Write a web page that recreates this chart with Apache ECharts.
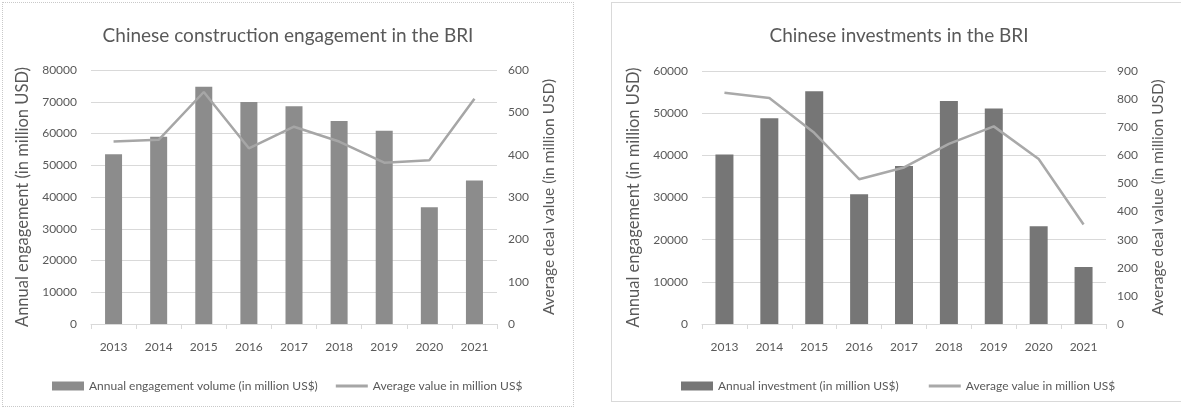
<!DOCTYPE html>
<html>
<head>
<meta charset="utf-8">
<script src="https://cdn.jsdelivr.net/npm/echarts@6/dist/echarts.min.js"></script>
<style>
  html, body { margin: 0; padding: 0; background: #ffffff; }
  body { width: 1181px; height: 410px; position: relative; overflow: hidden; }
  .box { position: absolute; box-sizing: border-box; background: #fff; }
  #construction { left: 2px; top: 2px; width: 572px; height: 405px; border: 1px dotted #c9c9c9; }
  #investment { left: 611px; top: 2px; width: 576px; height: 400px; border: 1px solid #d9d9d9; }
</style>
</head>
<body>
<div id="construction" class="box"></div>
<div id="investment" class="box"></div>
<script>
// categories and values
var years = ['2013', '2014', '2015', '2016', '2017', '2018', '2019', '2020', '2021'];

var constructionVolume = [53500, 59000, 74700, 69900, 68600, 63900, 60900, 36800, 45200];
var constructionAvg = [431, 435, 548, 415, 466, 431, 381, 387, 532];

var investmentVolume = [40200, 48800, 55200, 30800, 37500, 52900, 51100, 23200, 13500];
var investmentAvg = [823, 804, 680, 515, 557, 641, 703, 587, 354];

var textColor = '#595959';
var gridColor = '#d9d9d9';
var font = 'Lato';
// plain line for the legend entry of the line series
var lineIcon = 'path://M0,0 L32,0 L32,3 L0,3 Z';

function buildOption(cfg) {
  return {
    animation: false,
    textStyle: { fontFamily: font },

    // Title
    title: {
      text: cfg.title,
      left: 'center',
      top: 18,
      textStyle: { fontFamily: font, fontSize: 19, fontWeight: 'normal', color: textColor }
    },

    // Setup grid
    grid: cfg.grid,

    // Legend
    legend: {
      left: cfg.legendLeft,
      top: 372,
      itemWidth: 32,
      itemHeight: 9,
      itemGap: cfg.legendGap,
      textStyle: { fontFamily: font, fontSize: 12, color: textColor },
      data: [
        { name: cfg.barName, icon: 'rect' },
        { name: cfg.lineName, icon: lineIcon }
      ]
    },

    // Horizontal axis
    xAxis: [{
      type: 'category',
      data: years,
      axisLine: { lineStyle: { color: gridColor } },
      axisTick: { show: true, length: 5, lineStyle: { color: gridColor } },
      axisLabel: { color: textColor, fontSize: 12, margin: 17, fontFamily: font }
    }],

    // Vertical axes
    yAxis: [{
      type: 'value',
      min: 0,
      max: cfg.leftMax,
      interval: 10000,
      name: cfg.leftName,
      nameLocation: 'middle',
      nameRotate: 90,
      nameGap: cfg.leftNameGap,
      nameTextStyle: { fontFamily: font, fontSize: 16.5, color: textColor },
      axisLine: { show: false },
      axisTick: { show: false },
      axisLabel: {
        color: textColor, fontSize: 12, margin: 14, fontFamily: font,
        formatter: function (v) { return String(v); }
      },
      splitLine: { lineStyle: { color: gridColor, width: 1 } }
    }, {
      type: 'value',
      min: 0,
      max: cfg.rightMax,
      interval: 100,
      name: cfg.rightName,
      nameLocation: 'middle',
      nameRotate: 90,
      nameGap: cfg.rightNameGap,
      nameTextStyle: { fontFamily: font, fontSize: 15.5, color: textColor },
      axisLine: { show: false },
      axisTick: { show: false },
      axisLabel: {
        color: textColor, fontSize: 12, margin: 11, fontFamily: font,
        formatter: function (v) { return String(v); }
      },
      splitLine: { show: false }
    }],

    // Add series
    series: [{
      name: cfg.barName,
      type: 'bar',
      barWidth: cfg.barWidth,
      itemStyle: { color: cfg.barColor },
      data: cfg.barData
    }, {
      name: cfg.lineName,
      type: 'line',
      yAxisIndex: 1,
      symbol: 'none',
      lineStyle: { color: cfg.lineColor, width: 2.5 },
      itemStyle: { color: cfg.lineColor },
      data: cfg.lineData
    }]
  };
}

var constructionChart = echarts.init(document.getElementById('construction'));
constructionChart.setOption(buildOption({
  title: 'Chinese construction engagement in the BRI',
  grid: { left: 88, right: 76, top: 67, bottom: 82 },
  legendLeft: 44,
  legendGap: 18,
  barName: 'Annual engagement volume (in million US$)',
  lineName: 'Average value in million US$',
  leftName: 'Annual engagement (in million USD)',
  rightName: 'Average deal value (in million USD)',
  leftNameGap: 53,
  rightNameGap: 44,
  leftMax: 80000,
  rightMax: 600,
  barWidth: 17,
  barColor: '#8c8c8c',
  lineColor: '#a6a6a6',
  barData: constructionVolume,
  lineData: constructionAvg
}));

var investmentChart = echarts.init(document.getElementById('investment'));
investmentChart.setOption(buildOption({
  title: 'Chinese investments in the BRI',
  grid: { left: 90, right: 80, top: 68, bottom: 77 },
  legendLeft: 64,
  legendGap: 30,
  barName: 'Annual investment (in million US$)',
  lineName: 'Average value in million US$',
  leftName: 'Annual engagement (in million USD)',
  rightName: 'Average deal value (in million USD)',
  leftNameGap: 57,
  rightNameGap: 44,
  leftMax: 60000,
  rightMax: 900,
  barWidth: 18,
  barColor: '#767676',
  lineColor: '#a9a9a9',
  barData: investmentVolume,
  lineData: investmentAvg
}));
</script>
</body>
</html>
